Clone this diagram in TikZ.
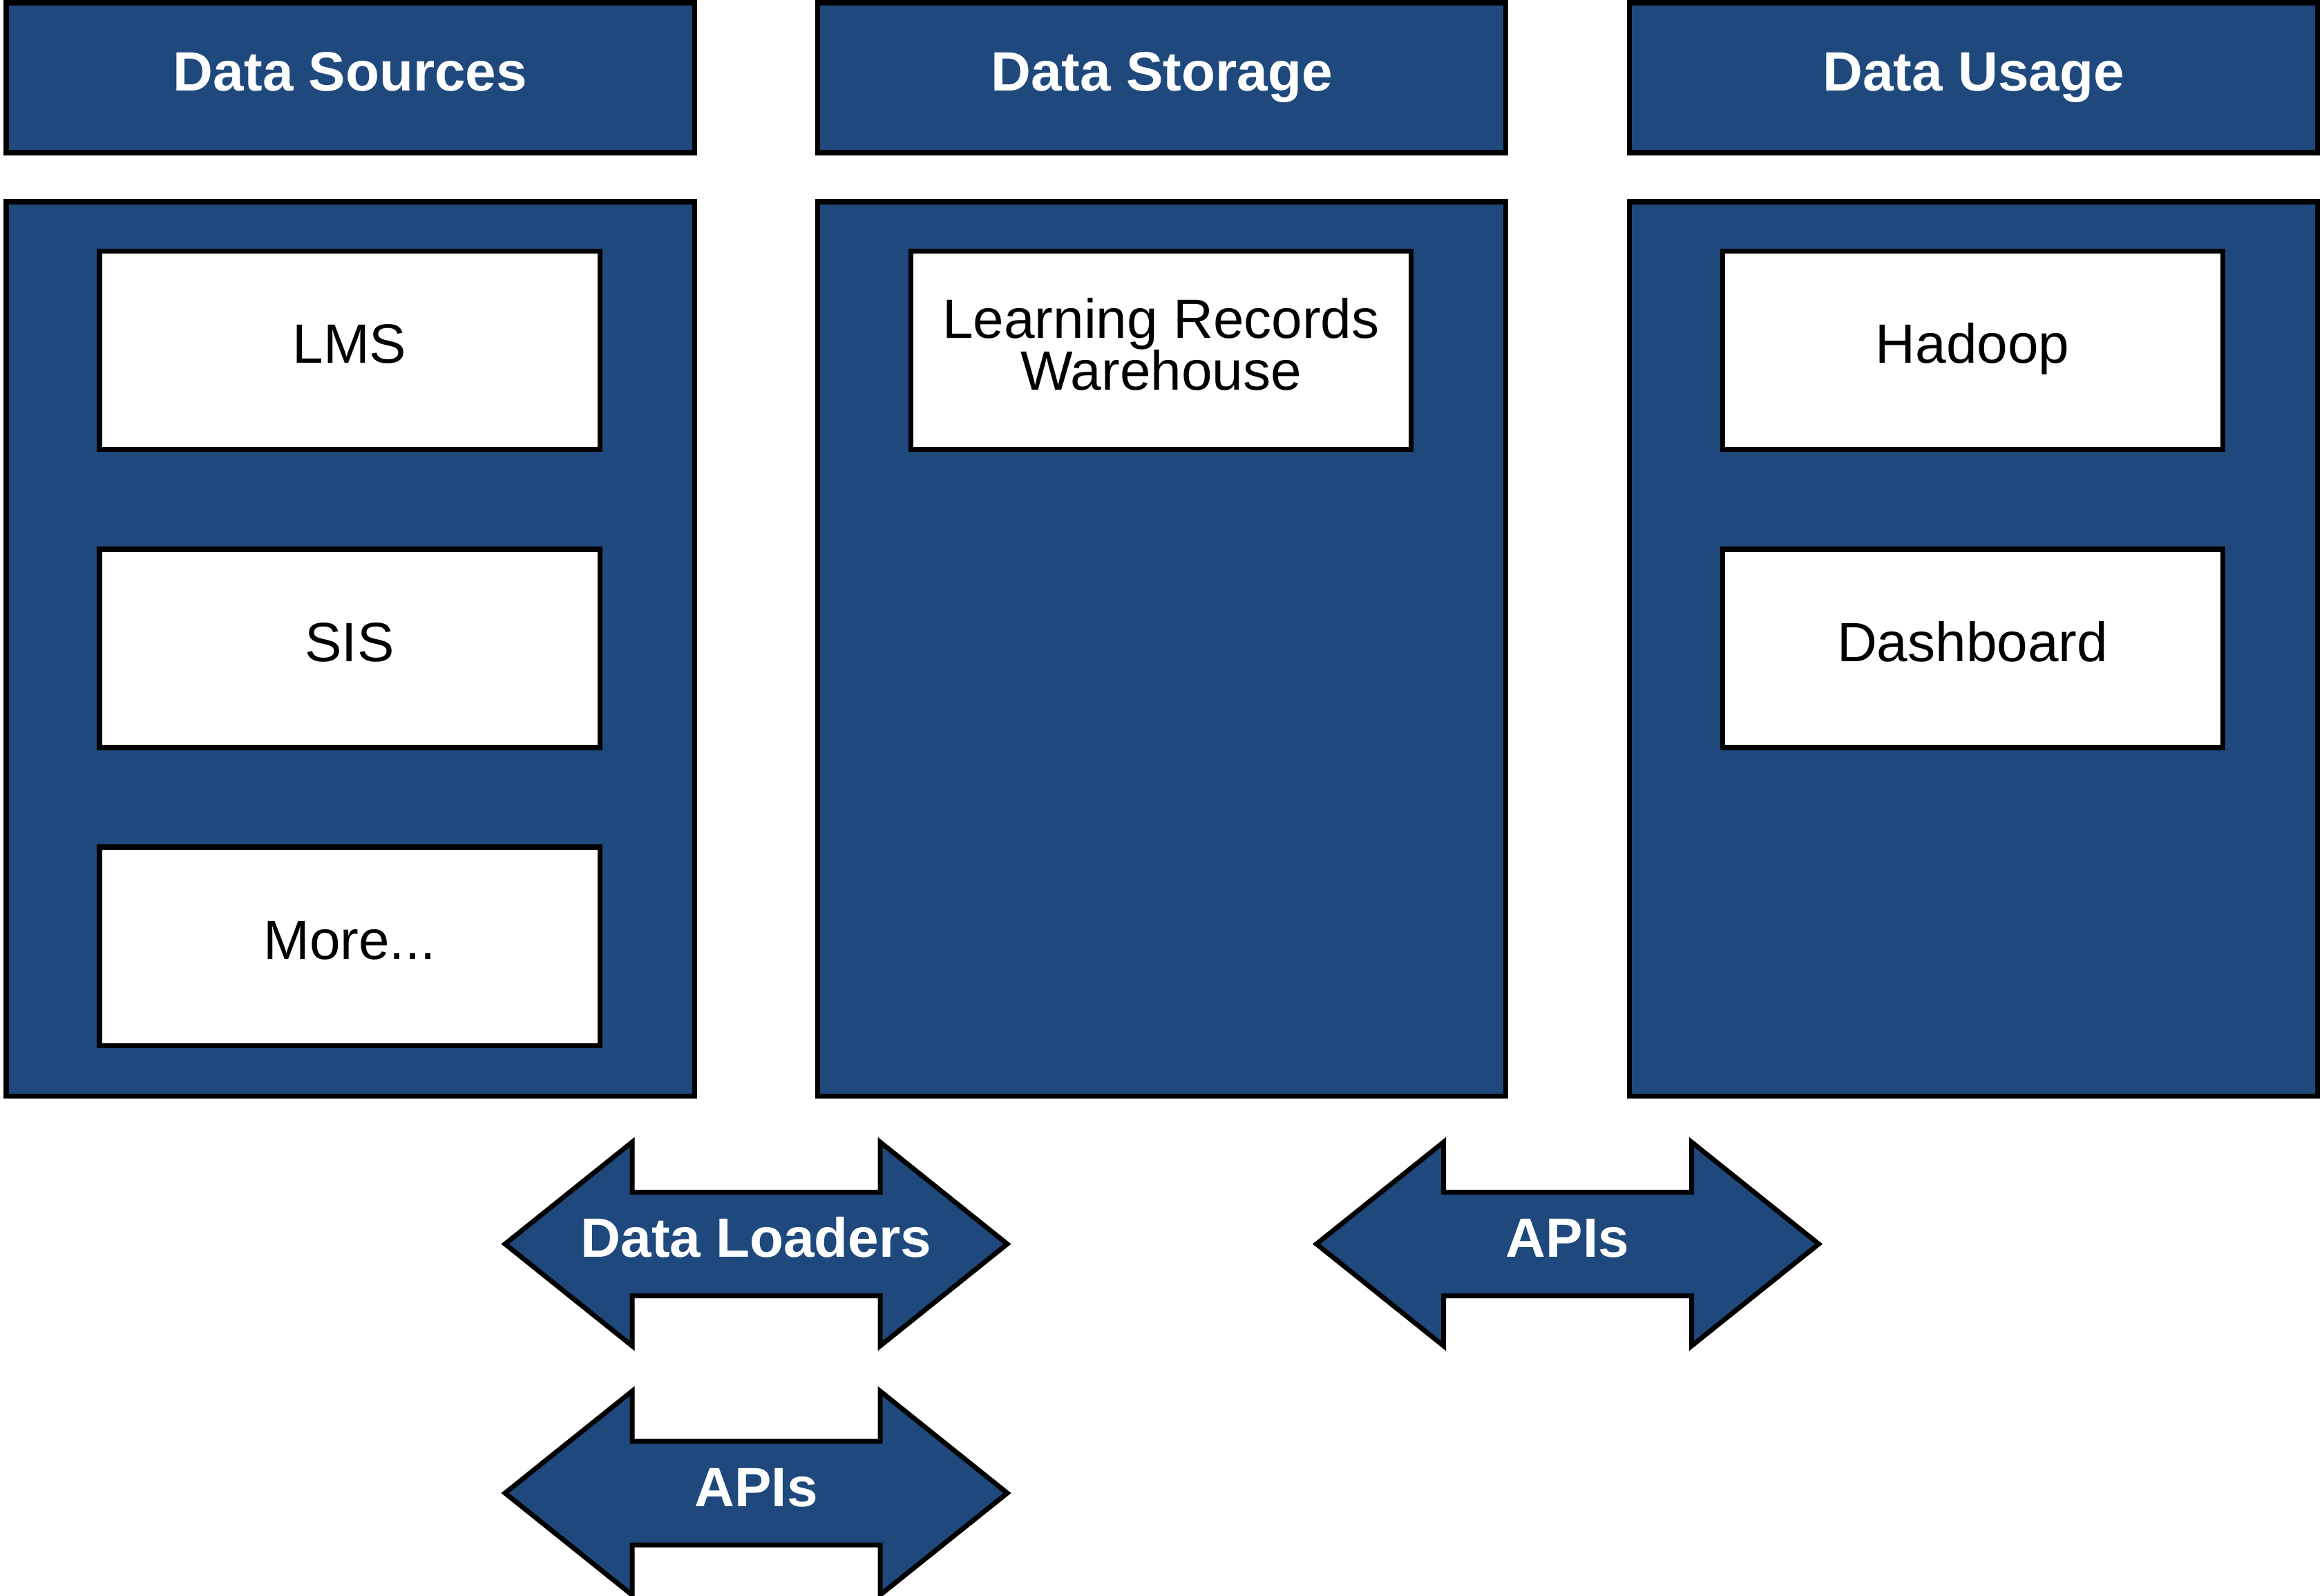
\documentclass[tikz,border=0pt]{standalone}
\usepackage{fontspec}
\setmainfont{Liberation Sans}
\definecolor{navy}{RGB}{31,73,125}
\tikzset{
  hdr/.style={draw=black, fill=navy, line width=2pt, minimum width=9.96cm, minimum height=2.17cm,
    text=white, font=\fontsize{22.8}{27}\selectfont\bfseries, inner sep=0pt, text height=0.58cm, text depth=0.2cm},
  panel/.style={draw=black, fill=navy, line width=2pt, minimum width=9.96cm, minimum height=12.94cm, inner sep=0pt},
  item/.style={draw=black, fill=white, line width=2pt, minimum width=7.24cm, minimum height=2.87cm,
    font=\fontsize{22.8}{25}\selectfont, inner sep=0pt, text height=0.58cm, text depth=0.2cm},
  multitext/.style={font=\fontsize{22.8}{21.3}\selectfont, align=center, inner sep=0pt},
  dblarrow/.style={draw=black, fill=navy, line width=2pt, line join=miter},
  arrowtext/.style={text=white, font=\fontsize{22.8}{27}\selectfont\bfseries, inner sep=0pt, text height=0.58cm, text depth=0.2cm}
}
\newcommand\mydblarrow[1]{%
  \draw[dblarrow] (#1) ++(-3.635,0) -- ++(1.84,1.475) -- ++(0,-0.725) -- ++(3.59,0) -- ++(0,0.725)
    -- ++(1.84,-1.475) -- ++(-1.84,-1.475) -- ++(0,0.725) -- ++(-3.59,0) -- ++(0,-0.725) -- cycle;}
\begin{document}
\begin{tikzpicture}
\useasboundingbox (0,0) rectangle (33.61,-23.10);
\fill[white] (0,0) rectangle (33.61,-23.10);
% headers
\node[hdr] (h1) at (5.07,-1.125) {Data Sources};
\node[hdr] (h2) at (16.815,-1.125) {Data Storage};
\node[hdr] (h3) at (28.565,-1.125) {Data Usage};
% panels
\node[panel] (p1) at (5.07,-9.39) {};
\node[panel] (p2) at (16.815,-9.39) {};
\node[panel] (p3) at (28.565,-9.39) {};
% items
\node[item] (lms) at (5.06,-5.07) {LMS};
\node[item] (sis) at (5.06,-9.385) {SIS};
\node[item] (more) at (5.06,-13.695) {More...};
\node[item] (lrw) at (16.805,-5.07) {};
\node[multitext] (lrwt) at ([yshift=0.09cm]lrw.center) {Learning Records\\Warehouse};
\node[item] (hadoop) at (28.55,-5.07) {Hadoop};
\node[item] (dash) at (28.55,-9.385) {Dashboard};
% arrows
\coordinate (dl) at (10.945,-18.005);
\coordinate (api1) at (10.945,-21.61);
\coordinate (api2) at (22.69,-18.005);
\mydblarrow{dl}
\mydblarrow{api1}
\mydblarrow{api2}
\node[arrowtext] (dlt) at (dl) {Data Loaders};
\node[arrowtext] (api1t) at (api1) {APIs};
\node[arrowtext] (api2t) at (api2) {APIs};
\end{tikzpicture}
\end{document}
